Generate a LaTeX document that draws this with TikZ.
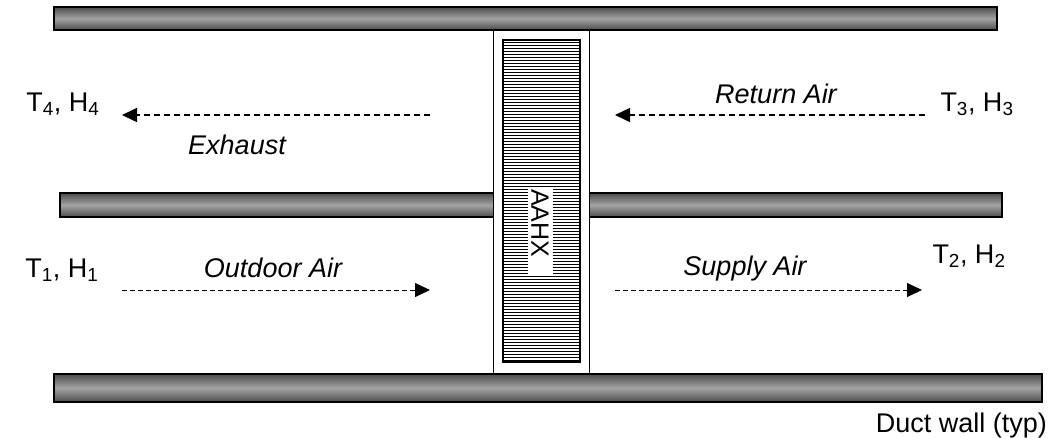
\documentclass[tikz,border=0pt]{standalone}
\usepackage{fontspec}
\setmainfont{Liberation Sans}
\usetikzlibrary{arrows.meta,positioning}
\definecolor{ductdark}{gray}{0.3}
\definecolor{ductlight}{gray}{0.64}

\begin{document}
\begin{tikzpicture}[ x=1pt , y=-1pt , font=\fontsize{27}{32}\selectfont ,
  duct/.style={ draw=black , line width=1.5pt , top color=ductdark , bottom color=ductdark , middle color=ductlight } ,
  flow/.style={ -{Triangle[length=15pt,width=14pt]} , dash pattern=on 6pt off 4pt } ,
  tag/.style={ anchor=base , inner sep=0pt } ]
\useasboundingbox (0,0) rectangle (1058,437);
% duct walls and exchanger
\path [ duct ] (60,193) rectangle (1002,217);
\draw [ fill=white , line width=1pt ] (493,28) rectangle (589,376);
\foreach \y in {42,45,...,360}
  \draw [ line width=0.7pt ] (503,\y) -- (580,\y);
\draw [ line width=2pt ] (503,40) rectangle (580,362);
\path [ duct ] (54,7) rectangle (997,30);
\path [ duct ] (54,374) rectangle (1042,402);
\node [ fill=white , minimum width=25pt , minimum height=88pt , inner sep=0pt ] (aahxbox) at (540,232) {};
\node [ rotate=-90 , anchor=west , inner sep=1pt , font=\fontsize{25}{30}\selectfont ] (aahx) at (aahxbox.north) {AAHX};
% air streams
\coordinate (exh_a) at (430,115);
\coordinate (exh_b) at (122,115);
\coordinate (ret_a) at (925,115);
\coordinate (ret_b) at (615,115);
\coordinate (out_a) at (122,290);
\coordinate (out_b) at (430,290);
\coordinate (sup_a) at (615,290);
\coordinate (sup_b) at (922,290);
\draw [ flow , line width=1.5pt ] (exh_a) -- (exh_b);
\draw [ flow , line width=1.5pt ] (ret_a) -- (ret_b);
\draw [ flow , line width=0.8pt , dash pattern=on 5pt off 3pt ] (out_a) -- (out_b);
\draw [ flow , line width=0.8pt , dash pattern=on 5pt off 3pt ] (sup_a) -- (sup_b);
% labels
\node [ tag ] (t4) at (63,111) {T\textsubscript{4}, H\textsubscript{4}};
\node [ tag ] (t3) at (977,111) {T\textsubscript{3}, H\textsubscript{3}};
\node [ tag ] (ret) at (776,103) {\itshape Return Air};
\node [ tag ] (exh) at (237,154) {\itshape Exhaust};
\node [ tag ] (t1) at (62,277) {T\textsubscript{1}, H\textsubscript{1}};
\node [ tag ] (out) at (273,277) {\itshape Outdoor Air};
\node [ tag ] (sup) at (745,275) {\itshape Supply Air};
\node [ tag ] (t2) at (969,263) {T\textsubscript{2}, H\textsubscript{2}};
\node [ tag , anchor=base east ] (wall) at (1047,432) {Duct wall (typ)};
\end{tikzpicture}
\end{document}
